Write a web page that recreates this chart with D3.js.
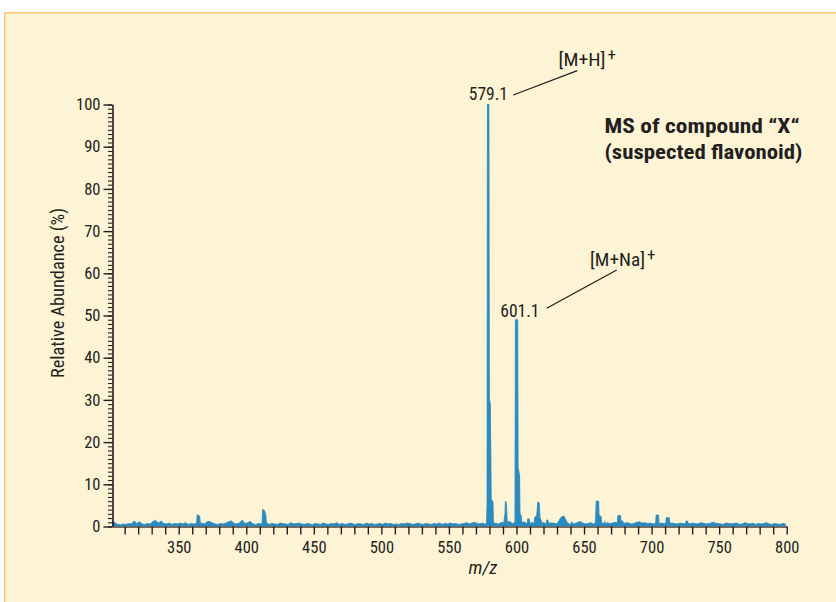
<!DOCTYPE html>
<html>
<head>
<meta charset="utf-8">
<script src="https://cdn.jsdelivr.net/npm/d3@7"></script>
<style>
  html, body { margin: 0; padding: 0; background: #ffffff; }
  svg { display: block; }
  text { fill: #231f20; }
</style>
</head>
<body>
<svg id="chart" width="836" height="602"></svg>
<script>
// ---------------- DATA ----------------
// baseline noise, relative abundance (%) every 2 m/z starting at 301
const noiseStartMz = 301;
const noiseStepMz = 2;
const noiseValues = [
  1.4,0.8,0.5,0.4,0.6,  0.5,0.7,0.6,1.3,0.7,  1.1,0.6,0.5,0.7,0.6,  1.2,1.4,0.8,1.3,0.7,
  0.6,0.8,0.5,0.7,0.6,  0.8,0.6,0.9,0.5,0.7,  0.6,0.7,0.9,0.8,0.6,  1.1,1.2,0.8,0.6,0.5,
  0.7,0.6,0.8,1.1,1.3,  0.7,0.6,0.8,1.5,0.7,  0.9,1.2,0.6,0.5,0.7,  0.6,0.8,0.8,0.5,0.7,
  0.6,0.5,0.8,0.7,0.6,  0.5,0.9,0.6,0.7,0.8,  0.6,0.5,0.7,0.6,0.4,  0.7,0.6,0.5,0.8,0.6,
  0.5,0.7,0.6,0.9,0.5,  0.7,0.5,0.6,0.8,0.6,  0.5,0.7,0.6,0.5,0.8,  0.6,0.7,0.5,0.6,0.7,
  0.5,0.8,0.6,0.7,0.5,  0.6,0.5,0.7,0.6,0.8,  0.7,0.5,0.6,0.8,0.6,  0.5,0.7,0.6,0.5,0.7,
  0.6,0.8,0.5,0.7,0.6,  0.8,0.6,0.7,0.5,0.6,  0.7,0.9,0.6,0.8,1.0,  0.7,0.6,0.8,0.5,0.7,
  0.6,0.8,0.7,0.6,1.0,  0.8,0.9,1.2,0.7,0.8,  0.9,0.6,1.1,0.8,0.7,  1.0,0.8,1.1,0.7,0.9,
  0.8,0.6,0.9,0.8,0.7,  1.0,1.2,0.9,0.7,0.6,  0.8,0.7,0.9,1.2,0.8,  0.6,0.7,0.9,0.6,0.7,
  1.0,0.7,0.8,0.9,0.7,  0.8,1.0,0.9,0.8,0.7,  0.9,0.8,0.6,0.7,1.0,  1.1,0.8,0.9,0.7,0.8,
  0.6,0.9,0.7,0.8,0.7,  0.8,0.9,0.8,0.7,0.6,  0.8,0.7,0.9,0.6,0.7,  0.8,0.6,0.7,0.9,0.7,
  0.6,0.7,1.0,0.8,0.7,  0.6,0.5,0.8,0.7,0.6,  0.7,0.8,0.5,0.6,0.9,  0.7,0.6,0.8,0.5,0.7,
  0.6,0.7,0.9,0.6,0.5,  0.7,0.6,0.5,0.7,0.6
];

// peak profiles: [m/z, relative abundance %]
const peak364 = [[363.3,0.7],[363.7,2.8],[365.5,2.5],[366.0,0.7]];
const peak413 = [[411.7,0.7],[412.1,4.0],[413.4,3.8],[414.5,2.6],[414.9,0.7]];
const peak579 = [[577.9,1.0],[578.2,5.0],[578.5,100],[579.6,100],[579.9,30.5],[580.6,29],[581.0,18],[581.3,6.4],[582.6,6.0],[582.9,1.0]];
const peak592 = [[590.6,0.8],[591.5,3.0],[591.8,6.0],[592.5,5.5],[593.2,1.0]];
const peak601 = [[598.9,1.0],[599.2,49],[600.9,49],[601.2,14],[602.3,12],[602.6,3.0],[603.5,2.5],[604.0,0.8]];
const peak609 = [[607.8,0.6],[608.3,1.8],[609.4,1.8],[609.8,0.6]];
const peak617 = [[613.0,0.7],[613.5,2.2],[615.0,2.5],[615.8,5.8],[616.8,5.6],[617.4,2.0],[618.2,1.5],[618.8,0.6]];
const peak623 = [[622.0,0.6],[622.5,1.6],[623.4,1.4],[623.8,0.5]];
const peak634 = [[630.0,0.6],[631.5,1.4],[633.0,2.2],[635.0,2.5],[636.5,1.6],[638.0,0.7]];
const peak641 = [[640.4,0.6],[641.0,1.1],[641.6,0.6]];
const peak660 = [[658.5,0.8],[659.0,6.0],[660.8,6.0],[661.1,2.6],[662.6,2.4],[663.2,0.8]];
const peak665 = [[664.5,0.6],[665.2,1.2],[666.0,0.6]];
const peak676 = [[674.6,0.8],[675.1,2.6],[676.9,2.6],[677.3,1.4],[678.8,1.2],[679.3,0.6]];
const peak704 = [[703.0,0.7],[703.4,2.7],[705.1,2.7],[705.5,0.7]];
const peak712 = [[710.5,0.7],[710.9,2.1],[713.0,2.1],[713.4,1.1],[714.2,0.6]];
const peak726 = [[725.0,0.6],[725.6,1.3],[726.6,1.3],[727.2,0.6]];
const peakGroups = [peak364, peak413, peak579, peak592, peak601, peak609, peak617, peak623,
                    peak634, peak641, peak660, peak665, peak676, peak704, peak712, peak726];

const xDomain = [301, 800];
const yDomain = [0, 100];
const xMajorTicks = [350, 400, 450, 500, 550, 600, 650, 700, 750, 800];
const xMinorTicks = d3.range(310, 801, 10);
const yMajorTicks = [0, 10, 20, 30, 40, 50, 60, 70, 80, 90, 100];
const yMinorTicks = d3.range(0, 101, 1);

const xTitle = "m/z";
const yTitle = "Relative Abundance (%)";
const titleLines = ["MS of compound \u201CX\u201C", "(suspected flavonoid)"];
const peakLabels = [
  { mz: "579.1", ion: "[M+H]", sup: "+" },
  { mz: "601.1", ion: "[M+Na]", sup: "+" }
];

// ---------------- DRAW ----------------
const svg = d3.select("#chart");
const FONT = "'Liberation Sans Narrow', 'Arial Narrow', 'Roboto Condensed', 'Liberation Sans', Arial, sans-serif";

// panel background
svg.append("rect")
  .attr("x", 4.75).attr("y", 12.75)
  .attr("width", 840).attr("height", 600)
  .attr("fill", "#fdf4d6")
  .attr("stroke", "#fcc673")
  .attr("stroke-width", 1.5);

const x = d3.scaleLinear().domain(xDomain).range([112.5, 786.7]);
const y = d3.scaleLinear().domain(yDomain).range([526.5, 104.5]);

// build spectrum
let pts = noiseValues.map((v, i) => [noiseStartMz + noiseStepMz * i, v]);
peakGroups.forEach(g => {
  const lo = g[0][0], hi = g[g.length - 1][0];
  pts = pts.filter(p => p[0] < lo || p[0] > hi);
  pts = pts.concat(g);
});
pts.sort((a, b) => a[0] - b[0]);

const area = d3.area()
  .x(d => x(d[0]))
  .y0(y(0))
  .y1(d => y(d[1]));

svg.append("path")
  .datum(pts)
  .attr("d", area)
  .attr("fill", "#2a8bc1")
  .attr("stroke", "#2a8bc1")
  .attr("stroke-width", 0.9)
  .attr("stroke-linejoin", "miter");

// x axis
const xAxisG = svg.append("g").attr("transform", `translate(0,${y(0)})`);
xAxisG.call(d3.axisBottom(x)
  .tickValues(xMinorTicks)
  .tickSize(8)
  .tickSizeOuter(0)
  .tickPadding(7)
  .tickFormat(d => xMajorTicks.includes(d) ? d : ""));
xAxisG.select(".domain").attr("stroke", "#6f6c63").attr("stroke-width", 2);
xAxisG.selectAll(".tick line").attr("stroke", "#231f20").attr("stroke-width", 1.4);
xAxisG.selectAll(".tick text")
  .attr("font-family", FONT).attr("font-size", 16.5).attr("fill", "#231f20");

// y axis (minor)
const yMinorG = svg.append("g").attr("transform", `translate(${x(xDomain[0])},0)`);
yMinorG.call(d3.axisLeft(y).tickValues(yMinorTicks).tickSize(4.5).tickSizeOuter(0).tickFormat(""));
yMinorG.select(".domain").remove();
yMinorG.selectAll(".tick line").attr("stroke", "#231f20").attr("stroke-width", 1.1);

// y axis (major)
const yAxisG = svg.append("g").attr("transform", `translate(${x(xDomain[0])},0)`);
yAxisG.call(d3.axisLeft(y).tickValues(yMajorTicks).tickSize(9).tickSizeOuter(0).tickPadding(3));
yAxisG.select(".domain").attr("stroke", "#231f20").attr("stroke-width", 1.6);
yAxisG.selectAll(".tick line").attr("stroke", "#231f20").attr("stroke-width", 1.4);
yAxisG.selectAll(".tick text")
  .attr("font-family", FONT).attr("font-size", 16.5).attr("fill", "#231f20");

// axis titles
svg.append("text")
  .attr("x", 483).attr("y", 574)
  .attr("text-anchor", "middle")
  .attr("font-family", FONT).attr("font-size", 19).attr("font-style", "italic")
  .text(xTitle);

svg.append("text")
  .attr("transform", "translate(64,293) rotate(-90)")
  .attr("text-anchor", "middle")
  .attr("font-family", FONT).attr("font-size", 18.5)
  .attr("textLength", 170).attr("lengthAdjust", "spacingAndGlyphs")
  .text(yTitle);

// chart title
svg.append("text")
  .attr("x", 604.5).attr("y", 133)
  .attr("font-family", FONT).attr("font-size", 21).attr("font-weight", "bold")
  .attr("textLength", 195).attr("lengthAdjust", "spacingAndGlyphs")
  .text(titleLines[0]);
svg.append("text")
  .attr("x", 604.5).attr("y", 159)
  .attr("font-family", FONT).attr("font-size", 21).attr("font-weight", "bold")
  .attr("textLength", 198).attr("lengthAdjust", "spacingAndGlyphs")
  .text(titleLines[1]);

// peak annotations
const ann = [
  { label: peakLabels[0], numX: 508, numY: 100, line: [513.3, 95, 577.3, 70.7], ionX: 558.5, ionY: 65.5, ionW: 47 },
  { label: peakLabels[1], numX: 539.5, numY: 316.5, line: [546.7, 308.3, 616.7, 270], ionX: 590, ionY: 265.5, ionW: 55 }
];
ann.forEach(a => {
  svg.append("text")
    .attr("x", a.numX).attr("y", a.numY)
    .attr("text-anchor", "end")
    .attr("font-family", FONT).attr("font-size", 17.5)
    .text(a.label.mz);
  svg.append("line")
    .attr("x1", a.line[0]).attr("y1", a.line[1])
    .attr("x2", a.line[2]).attr("y2", a.line[3])
    .attr("stroke", "#231f20").attr("stroke-width", 1.3);
  svg.append("text")
    .attr("x", a.ionX).attr("y", a.ionY)
    .attr("font-family", FONT).attr("font-size", 18)
    .attr("textLength", a.ionW).attr("lengthAdjust", "spacingAndGlyphs")
    .text(a.label.ion);
  svg.append("text")
    .attr("x", a.ionX + a.ionW + 2).attr("y", a.ionY - 6)
    .attr("font-family", FONT).attr("font-size", 17)
    .text(a.label.sup);
});
</script>
</body>
</html>
